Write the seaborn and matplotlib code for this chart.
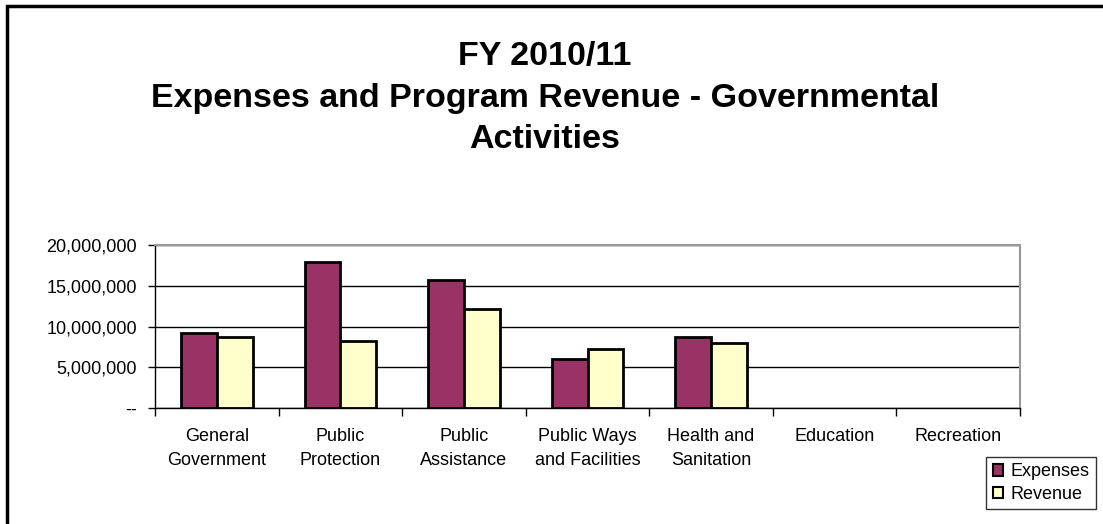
import numpy as np
import pandas as pd
import matplotlib
matplotlib.use("Agg")
import matplotlib.pyplot as plt
import seaborn as sns
from matplotlib.patches import Rectangle, Patch
from matplotlib.ticker import FuncFormatter, FixedLocator

# ── Data ───────────────────────────────────────────────────────────────────────
categories = ["General\nGovernment", "Public\nProtection", "Public\nAssistance",
              "Public Ways\nand Facilities", "Health and\nSanitation",
              "Education", "Recreation"]
expenses = [9_220_000, 17_950_000, 15_700_000, 6_000_000, 8_730_000, 0, 0]
revenue  = [8_730_000, 8_280_000, 12_200_000, 7_260_000, 7_960_000, 0, 0]
series   = ["Expenses", "Revenue"]
colors   = ["#993366", "#FFFFCC"]
title_lines = ["FY 2010/11", "Expenses and Program Revenue - Governmental", "Activities"]

df = pd.DataFrame({
    "category": categories * 2,
    "series":   [series[0]] * len(categories) + [series[1]] * len(categories),
    "value":    expenses + revenue,
})

# ── Style ──────────────────────────────────────────────────────────────────────
sns.set_style("white")
plt.rcParams["font.family"] = ["Liberation Sans", "DejaVu Sans"]
plt.rcParams["text.color"] = "black"
plt.rcParams["xtick.color"] = "black"
plt.rcParams["ytick.color"] = "black"

W, H = 1103, 524
fig = plt.figure(figsize=(W / 100, H / 100), dpi=100)
ax = fig.add_axes([155 / W, 116 / H, 865 / W, 163 / H])

sns.barplot(data=df, x="category", y="value", hue="series", order=categories,
            hue_order=series, palette=colors, saturation=1, width=0.58, gap=0,
            edgecolor="black", linewidth=2, legend=False, ax=ax)

# zero-height bars show no outline in the original
for p in ax.patches:
    if p.get_height() == 0:
        p.set_linewidth(0)

ax.set_ylim(0, 20_000_000)
ax.set_xlim(-0.5, len(categories) - 0.5)
ax.set_yticks(np.arange(0, 20_000_001, 5_000_000))
ax.yaxis.set_major_formatter(FuncFormatter(lambda v, _: "--" if v == 0 else f"{v:,.0f}"))
ax.grid(axis="y", color="black", linewidth=1)
ax.set_axisbelow(True)
ax.set_xlabel("")
ax.set_ylabel("")

# spines: black left/bottom, grey top/right
for side in ["left", "bottom"]:
    ax.spines[side].set_color("black")
    ax.spines[side].set_linewidth(1)
for side in ["top", "right"]:
    ax.spines[side].set_color("#999999")
    ax.spines[side].set_linewidth(1.5)

ax.tick_params(axis="y", which="major", left=True, length=5, width=1,
               labelsize=13, pad=8)
ax.tick_params(axis="x", which="major", bottom=False, labelsize=13, pad=11)
for lbl in ax.get_xticklabels():
    lbl.set_linespacing(1.5)
ax.xaxis.set_minor_locator(FixedLocator(np.arange(-0.5, len(categories), 1.0)))
ax.tick_params(axis="x", which="minor", bottom=True, length=6, width=1)

# ── Title ──────────────────────────────────────────────────────────────────────
for i, line in enumerate(title_lines):
    fig.text(0.494, 1 - (56 + 42 * i) / H, line, ha="center", va="center",
             fontsize=24.5, fontweight="bold")

# ── Legend ─────────────────────────────────────────────────────────────────────
handles = [Patch(facecolor=c, edgecolor="black", linewidth=1.5, label=s)
           for c, s in zip(colors, series)]
leg = fig.legend(handles=handles, loc="lower right",
                 bbox_to_anchor=(1096 / W, 1 - 509 / H),
                 frameon=True, fancybox=False, fontsize=13,
                 handlelength=0.6, handleheight=0.6, handletextpad=0.4,
                 borderpad=0.35, borderaxespad=0, labelspacing=0.3)
leg.get_frame().set_edgecolor("black")
leg.get_frame().set_linewidth(1)
leg._legend_box.align = "left"

# ── Outer chart border (top and left visible) ──────────────────────────────────
fig.patches.append(Rectangle((7 / W, -0.1), 1.2, 1 - 6 / H + 0.1,
                             transform=fig.transFigure, fill=False,
                             edgecolor="black", linewidth=2.5))

fig.savefig("out.png", dpi=100)
